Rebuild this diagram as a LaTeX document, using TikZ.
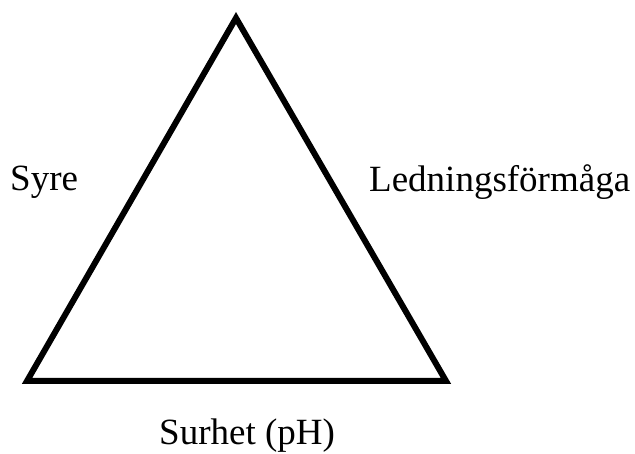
\documentclass[tikz,border=0pt]{standalone}
\usepackage{fontspec}
\setmainfont{Liberation Serif}
\begin{document}
\begin{tikzpicture}[x=1pt,y=-1pt,
  lbl/.style={inner sep=0pt,anchor=base west,font=\fontsize{37}{40}\selectfont},
  edge/.style={line width=6pt,line join=miter}]
\useasboundingbox (0,0) rectangle (635,454);
\coordinate (top) at (236,18);
\coordinate (bl) at (27,381);
\coordinate (br) at (446,381);
\draw[edge] (top) -- (br) -- (bl) -- cycle;
\node[lbl] (syre) at (10,191) {Syre};
\node[lbl] (led) at (369,192) {Ledningsförmåga};
\node[lbl] (sur) at (159,444) {Surhet (pH)};
\end{tikzpicture}
\end{document}
